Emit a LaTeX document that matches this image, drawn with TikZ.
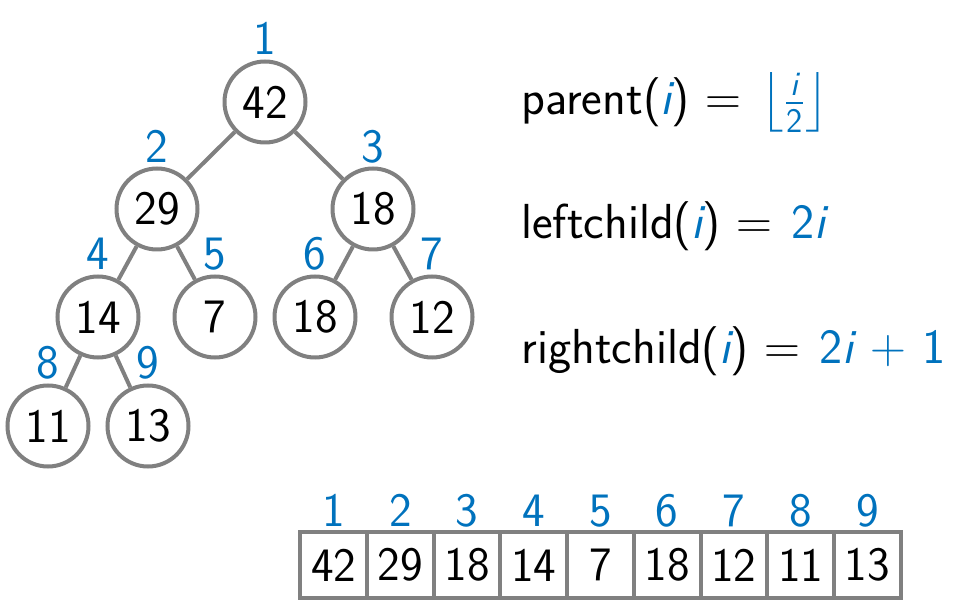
\documentclass[tikz,border=0pt]{standalone}
\usepackage{amsmath}
\definecolor{idx}{RGB}{0,114,189}
\definecolor{edgegray}{RGB}{128,128,128}
\newcommand{\ic}{\text{\sffamily\slshape i}}
\newcommand{\sfd}[1]{\text{\sffamily #1}}
\tikzset{
  hnode/.style={circle, draw=edgegray, line width=2pt, minimum size=40.5pt, inner sep=0pt, fill=white},
  idxlab/.style={text=idx, anchor=base, inner sep=0pt},
  cell/.style={rectangle, draw=edgegray, line width=2pt, minimum size=33.35pt, inner sep=0pt},
  link/.style={draw=edgegray, line width=2pt},
  formula/.style={anchor=base west, inner sep=0pt, font=\fontsize{24.6}{28}\selectfont\sffamily}
}
\begin{document}
\thickmuskip=7mu plus 3mu
\medmuskip=6mu plus 2mu
\begin{tikzpicture}[x=0.5pt,y=-0.5pt,
  every node/.append style={font=\fontsize{24}{28}\selectfont\sffamily}]
\useasboundingbox (0,0) rectangle (956,613);
% tree nodes
\node[hnode] (n1) at (265,102) {42};
\node[hnode] (n2) at (157,209) {29};
\node[hnode] (n3) at (373,209) {18};
\node[hnode] (n4) at (98,317) {14};
\node[hnode] (n5) at (215,317) {7};
\node[hnode] (n6) at (315,317) {18};
\node[hnode] (n7) at (432,317) {12};
\node[hnode] (n8) at (48,426) {11};
\node[hnode] (n9) at (148,426) {13};
% edges
\draw[link] (n1) -- (n2);
\draw[link] (n1) -- (n3);
\draw[link] (n2) -- (n4);
\draw[link] (n2) -- (n5);
\draw[link] (n3) -- (n6);
\draw[link] (n3) -- (n7);
\draw[link] (n4) -- (n8);
\draw[link] (n4) -- (n9);
% tree index labels
\node[idxlab] (l1) at (265,55) {1};
\node[idxlab] (l2) at (157,162.5) {2};
\node[idxlab] (l3) at (373,162.5) {3};
\node[idxlab] (l4) at (98,270) {4};
\node[idxlab] (l5) at (215,270) {5};
\node[idxlab] (l6) at (315,270) {6};
\node[idxlab] (l7) at (432,270) {7};
\node[idxlab] (l8) at (48,379) {8};
\node[idxlab] (l9) at (148,379) {9};
% formulas
\node[formula] (f1) at (521,115) {parent(\textcolor{idx}{\slshape i}) $= {\color{idx}\left\lfloor\frac{\ic}{\sfd{2}}\right\rfloor}$};
\node[formula] (f2) at (521,239) {leftchild(\textcolor{idx}{\slshape i}) $= {\color{idx}\sfd{2}\ic}$};
\node[formula] (f3) at (521,364) {rightchild(\textcolor{idx}{\slshape i}) $= {\color{idx}\sfd{2}\ic + \sfd{1}}$};
% array
\foreach \v [count=\k from 0] in {42,29,18,14,7,18,12,11,13} {
  \pgfmathsetmacro{\cx}{333.7+66.7*\k}
  \node[cell] (c\k) at (\cx,565) {\v};
  \pgfmathtruncatemacro{\kk}{\k+1}
  \node[idxlab] (a\k) at (\cx,526) {\kk};
}
\end{tikzpicture}
\end{document}
